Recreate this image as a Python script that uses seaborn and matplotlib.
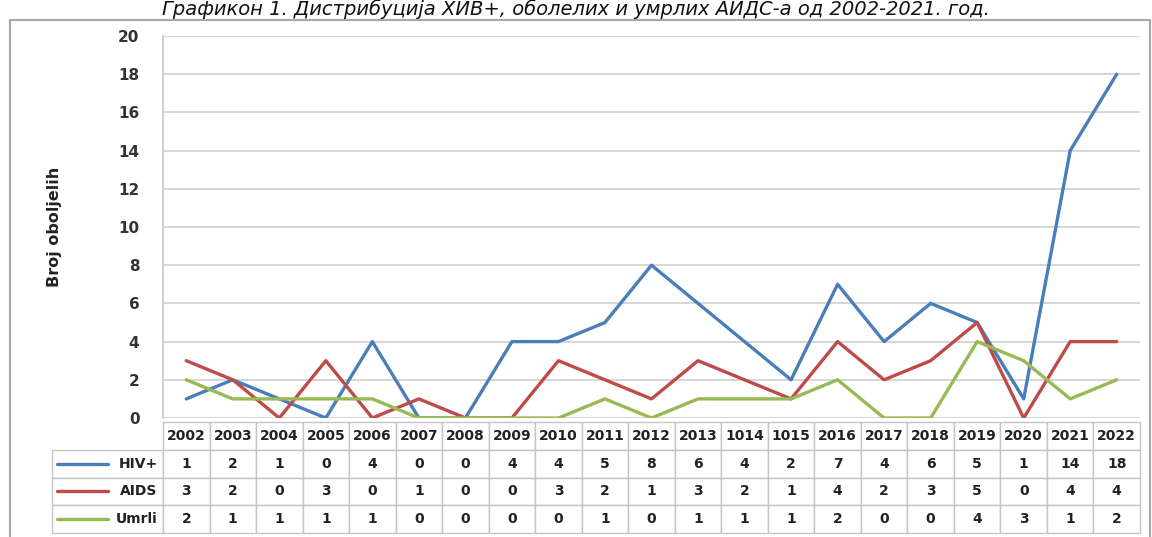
import matplotlib
matplotlib.use("Agg")
import matplotlib.pyplot as plt
import seaborn as sns
import pandas as pd
from matplotlib.patches import Rectangle

years = ["2002", "2003", "2004", "2005", "2006", "2007", "2008", "2009", "2010", "2011", "2012",
         "2013", "1014", "1015", "2016", "2017", "2018", "2019", "2020", "2021", "2022"]
hiv = [1, 2, 1, 0, 4, 0, 0, 4, 4, 5, 8, 6, 4, 2, 7, 4, 6, 5, 1, 14, 18]
aids = [3, 2, 0, 3, 0, 1, 0, 0, 3, 2, 1, 3, 2, 1, 4, 2, 3, 5, 0, 4, 4]
umrli = [2, 1, 1, 1, 1, 0, 0, 0, 0, 1, 0, 1, 1, 1, 2, 0, 0, 4, 3, 1, 2]
series_names = ["HIV+", "AIDS", "Umrli"]
colors = ["#4A7EBB", "#BE4B48", "#98B954"]
y_ticks = [0, 2, 4, 6, 8, 10, 12, 14, 16, 18, 20]
title = "Графикон 1. Дистрибуција ХИВ+, оболелих и умрлих АИДС-а од 2002-2021. год."
ylabel = "Broj oboljelih"

sns.set_theme(style="white")
plt.rcParams["font.family"] = ["DejaVu Sans"]

W, H = 1152, 537
fig = plt.figure(figsize=(W / 100, H / 100), dpi=100)
L, R, T, B = 163, 1140, 36, 418
ax = fig.add_axes([L / W, 1 - B / H, (R - L) / W, (B - T) / H])

rows = []
for name, vals in zip(series_names, [hiv, aids, umrli]):
    for i, v in enumerate(vals):
        rows.append({"idx": i, "value": v, "series": name})
df = pd.DataFrame(rows)

sns.lineplot(data=df, x="idx", y="value", hue="series", palette=colors,
             hue_order=series_names, linewidth=2.4, legend=False, ax=ax, zorder=3)

ax.set_xlim(-0.5, len(years) - 0.5)
ax.set_ylim(0, 20)
ax.set_yticks(y_ticks)
ax.set_yticklabels([str(t) for t in y_ticks], fontweight="bold", fontsize=11, color="#333333")
ax.tick_params(axis="y", length=0, pad=17)
ax.set_xticks([])
ax.set_xlabel("")
ax.set_ylabel(ylabel, fontweight="bold", fontsize=11.5, color="#222222")
ax.yaxis.set_label_coords(-(L - 62) / (R - L), 0.5)
for y in y_ticks:
    ax.axhline(y, color="#d0d0d0", lw=1.2, zorder=1)
for s in ["top", "right", "bottom"]:
    ax.spines[s].set_visible(False)
ax.spines["left"].set_color("#c8c8c8")
ax.spines["left"].set_linewidth(1.2)

# data table (bbox covers the data cells; row-label column added to the left)
cell_text = [[str(v) for v in vals] for vals in [hiv, aids, umrli]]
lab_left = 52
tab_top, tab_bot = 422, 533
ph = B - T
pw = R - L
bbox = [0, -(tab_bot - B) / ph, 1, (tab_bot - tab_top) / ph]
tab = ax.table(cellText=cell_text, colLabels=years, cellLoc="center", bbox=bbox)
tab.auto_set_font_size(False)
tab.set_clip_on(False)
row_height = tab[1, 0].get_height()
for k, name in enumerate(series_names):
    c = tab.add_cell(k + 1, -1, width=(L - lab_left) / pw, height=row_height,
                     text=name, loc="right")
    c.PAD = 0.05
for (r, c), cell in tab.get_celld().items():
    if c >= 0:
        cell.set_width(1.0 / len(years))
    cell.set_clip_on(False)
    cell.set_edgecolor("#c4c4c4")
    cell.set_linewidth(1.0)
    cell.get_text().set_fontweight("bold")
    cell.get_text().set_fontsize(10)
    cell.get_text().set_color("#222222")

# legend keys inside the row-label cells
row_h = (tab_bot - tab_top) / 4
for k, col in enumerate(colors):
    yc = tab_top + row_h * (k + 1.5)
    ya = -(yc - B) / ph
    ax.plot([-(L - 57) / pw, -(L - 108) / pw], [ya, ya], color=col, lw=2.4,
            transform=ax.transAxes, clip_on=False, zorder=5)

# outer chart frame
fig.patches.append(Rectangle((10 / W, -0.05), (1150 - 10) / W, 1 - 20 / H + 0.05,
                             transform=fig.transFigure, fill=False, edgecolor="#a8a8a8",
                             lw=1.5))

fig.text(0.5, 1 - 15 / H, title, ha="center", va="baseline", fontsize=14,
         style="italic", color="#111111")

fig.savefig("out.png", dpi=100)
